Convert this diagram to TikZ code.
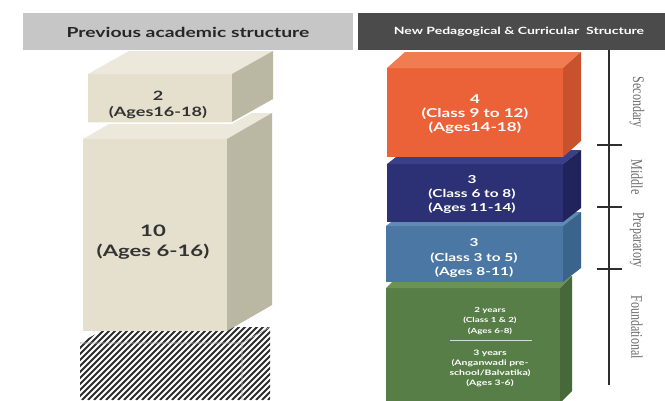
\documentclass[tikz,border=0pt]{standalone}
\usepackage{fontspec}
\setmainfont{Lato}
\newfontfamily\wfont[FakeStretch=1.4]{Lato}
\newfontfamily\lblfont{Liberation Serif}
\usetikzlibrary{calc}
\definecolor{hdl}{HTML}{C6C6C6}
\definecolor{hdr}{HTML}{4B4B4B}
\definecolor{bgF}{HTML}{E4E0CD}
\definecolor{bgT}{HTML}{ECE9DC}
\definecolor{bgS}{HTML}{BAB7A3}
\definecolor{orF}{HTML}{EC6238}
\definecolor{orT}{HTML}{F27C52}
\definecolor{orS}{HTML}{C8522E}
\definecolor{dbF}{HTML}{2C3074}
\definecolor{dbT}{HTML}{3B3F88}
\definecolor{dbS}{HTML}{20245A}
\definecolor{lbF}{HTML}{4A77A4}
\definecolor{lbT}{HTML}{5E8AB4}
\definecolor{lbS}{HTML}{3A648B}
\definecolor{grF}{HTML}{587E47}
\definecolor{grT}{HTML}{6C9257}
\definecolor{grS}{HTML}{47693A}
\definecolor{hatchdark}{HTML}{2E2E2E}
\definecolor{lblgray}{HTML}{6A6A6A}
\newcommand\boxfaces[5]{%
  \fill[#4] (#1.north west) -- ++(#2,-#3) -- ($(#1.north east)+(#2,-#3)$) -- (#1.north east) -- cycle;
  \fill[#5] (#1.north east) -- ++(#2,-#3) -- ($(#1.south east)+(#2,-#3)$) -- (#1.south east) -- cycle;
}
\newcommand\stagetext[1]{\scalebox{1}[1.35]{#1}}
\begin{document}
\begin{tikzpicture}[x=1pt,y=-1pt,
  front/.style={anchor=north west, inner sep=0pt, outer sep=0pt},
  boxtxt/.style={align=center, inner sep=0pt},
  hdbar/.style={inner sep=0pt, outer sep=0pt, anchor=north west},
  stage/.style={rotate=-90, font=\lblfont\fontsize{12}{14}\selectfont, text=lblgray, inner sep=0pt},
  tick/.style={line width=2pt, draw=hatchdark}]
\useasboundingbox (0,0) rectangle (665,400);
\fill[white] (0,0) rectangle (665,400);
\clip (0,0) rectangle (665,400);

% headers
\node[hdbar, fill=hdl, minimum width=330pt, minimum height=37pt] (hl) at (23,13) {};
\node[font=\wfont\bfseries\fontsize{13.8}{15}\selectfont, text=black!85] (hlt) at (188,32) {Previous academic structure};
\node[hdbar, fill=hdr, minimum width=310pt, minimum height=37pt] (hr) at (358,13) {};
\node[font=\wfont\bfseries\fontsize{10}{11}\selectfont, text=white] (hrt) at (519,32) {New Pedagogical \& Curricular\ \ Structure};

% ---------- left column ----------
% hatched box
\begin{scope}
  \clip (80,343) -- (108,327) -- (270,327) -- (270,400) -- (80,400) -- cycle;
  \fill[white] (80,300) rectangle (272,400);
  \foreach \i in {-160,-154,...,300} {
    \draw[hatchdark, line width=2.1pt] (\i+80,400) -- (\i+200,280);
  }
\end{scope}
\draw[gray!60, line width=0.6pt] (80,343) -- (242,343) -- (270,327) (242,343) -- (242,400);
\coordinate (hatchtop) at (175,335);

% big box 10
\node[front, fill=bgF, minimum width=144pt, minimum height=192pt] (ten) at (83,139) {};
\boxfaces{ten}{45}{26}{bgT}{bgS}
\node[boxtxt, text=black!80, font=\wfont\bfseries\fontsize{15.8}{20}\selectfont] (tent) at (153,242) {10\\(Ages 6-16)};

% small box 2
\node[front, fill=bgF, minimum width=144pt, minimum height=49pt] (two) at (88,74) {};
\boxfaces{two}{41}{23}{bgT}{bgS}
\draw[white, line width=1.5pt] (two.south west) -- (two.south east) -- ++(41,-23);
\node[boxtxt, text=black!80, font=\wfont\bfseries\fontsize{12.9}{16}\selectfont] (twot) at (158,105) {2\\(Ages16-18)};

% ---------- right column ----------
% green
\node[front, fill=grF, minimum width=174pt, minimum height=115pt] (gr) at (386,288) {};
\boxfaces{gr}{12}{12}{grT}{grS}
\node[boxtxt, text=white, font=\wfont\bfseries\fontsize{7}{10.5}\selectfont] (grt1) at (490,321) {2 years\\(Class 1 \& 2)\\(Ages 6-8)};
\node[boxtxt, text=white, font=\wfont\bfseries\fontsize{7.5}{10}\selectfont] (grt2) at (490,368) {3 years\\(Anganwadi pre-\\school/Balvatika)\\(Ages 3-6)};
\draw[white!75!grF, line width=0.8pt] ($(grt1.south)+(-40,6)$) -- ($(grt1.south)+(42,6)$);

% light blue
\node[front, fill=lbF, minimum width=177pt, minimum height=56pt] (lb) at (386,226) {};
\boxfaces{lb}{18}{14}{lbT}{lbS}
\node[boxtxt, text=white, font=\wfont\bfseries\fontsize{11}{14.5}\selectfont] (lbt) at (474,258) {3\\(Class 3 to 5)\\(Ages 8-11)};

% dark blue
\node[front, fill=dbF, minimum width=176pt, minimum height=58pt] (db) at (387,164) {};
\boxfaces{db}{18}{14}{dbT}{dbS}
\node[boxtxt, text=white, font=\wfont\bfseries\fontsize{11}{14}\selectfont] (dbt) at (472,194) {3\\(Class 6 to 8)\\(Ages 11-14)};

% orange
\node[front, fill=orF, minimum width=176pt, minimum height=89pt] (or) at (387,68) {};
\boxfaces{or}{18}{16}{orT}{orS}
\node[boxtxt, text=white, font=\wfont\bfseries\fontsize{12.2}{14}\selectfont] (ort) at (475,114) {4\\(Class 9 to 12)\\(Ages14-18)};

% ---------- timeline ----------
\coordinate (tlTop) at (609,50);
\coordinate (tlBot) at (609,385);
\draw[line width=2.6pt, draw=hatchdark] (tlTop) -- (tlBot);
\foreach \y/\n in {145/ta,207/tb,269/tc} {
  \coordinate (\n L) at (597,\y);
  \coordinate (\n R) at (622,\y);
  \draw[tick] (\n L) -- (\n R);
}
\node[stage] (sec) at (637,102) {\stagetext{Secondary}};
\node[stage] (mid) at (637,177) {\stagetext{Middle}};
\node[stage] (pre) at (637,240) {\stagetext{Preparatory}};
\node[stage] (fou) at (637,327) {\stagetext{Foundational}};
\end{tikzpicture}
\end{document}
